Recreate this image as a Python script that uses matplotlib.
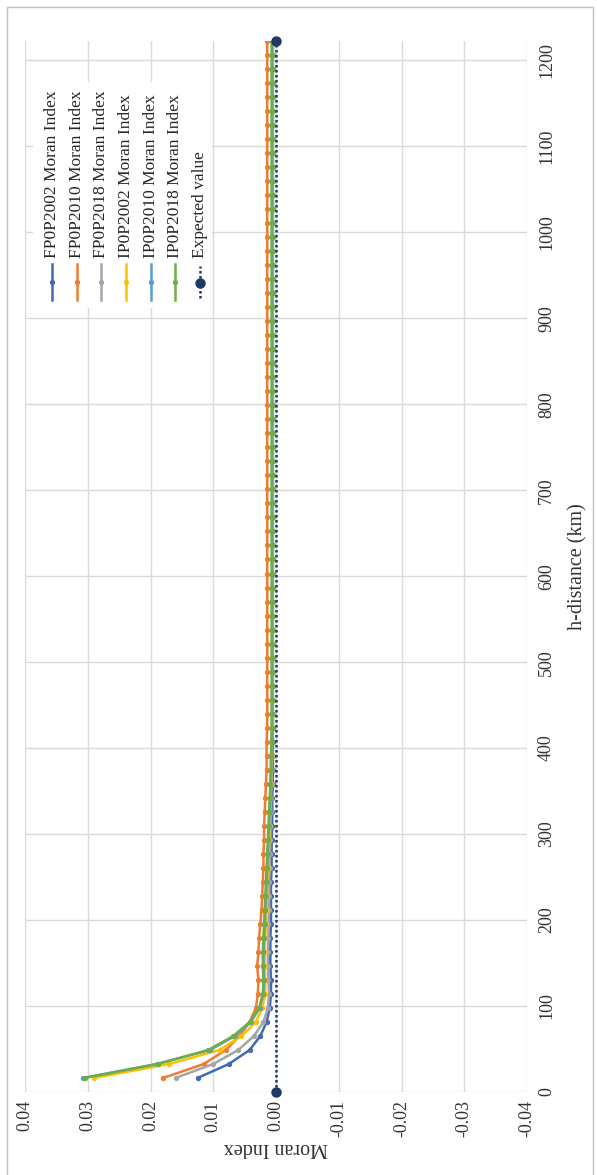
import numpy as np
import matplotlib.pyplot as plt
from matplotlib.lines import Line2D
from matplotlib.patches import Rectangle

plt.rcParams['font.family'] = ['Liberation Serif', 'DejaVu Serif']

# lag distances (km), 75 lags
lag_km = 16.3
h_km = lag_km * np.arange(1, 76)

fp2002 = [0.0125, 0.0075, 0.0042, 0.0025, 0.0015, 0.0010, 0.0008, 0.0008, 0.0009, 0.0009,
          0.0009, 0.0008, 0.0008, 0.0008, 0.0008, 0.0007, 0.0007, 0.0007, 0.0006, 0.0006,
          0.0006, 0.0005, 0.0005, 0.0005, 0.0005, 0.0005, 0.0005, 0.0005, 0.0005, 0.0005,
          0.0005, 0.0005, 0.0005, 0.0005, 0.0005, 0.0005, 0.0005, 0.0005, 0.0005, 0.0005,
          0.0005, 0.0005, 0.0005, 0.0005, 0.0005, 0.0005, 0.0005, 0.0005, 0.0005, 0.0005,
          0.0005, 0.0005, 0.0005, 0.0005, 0.0005, 0.0005, 0.0005, 0.0005, 0.0005, 0.0005,
          0.0005, 0.0005, 0.0005, 0.0005, 0.0005, 0.0005, 0.0005, 0.0005, 0.0005, 0.0005,
          0.0005, 0.0005, 0.0005, 0.0005, 0.0005]
fp2010 = [0.0180, 0.0115, 0.0080, 0.0058, 0.0042, 0.0032, 0.0029, 0.0028, 0.0030, 0.0028,
          0.0027, 0.0025, 0.0023, 0.0022, 0.0021, 0.0020, 0.0020, 0.0019, 0.0019, 0.0018,
          0.0017, 0.0016, 0.0015, 0.0015, 0.0015, 0.0014, 0.0014, 0.0014, 0.0014, 0.0014,
          0.0014, 0.0014, 0.0014, 0.0014, 0.0014, 0.0014, 0.0014, 0.0014, 0.0014, 0.0014,
          0.0014, 0.0014, 0.0014, 0.0014, 0.0014, 0.0014, 0.0014, 0.0014, 0.0014, 0.0014,
          0.0014, 0.0014, 0.0014, 0.0014, 0.0014, 0.0014, 0.0014, 0.0014, 0.0014, 0.0014,
          0.0014, 0.0014, 0.0014, 0.0014, 0.0014, 0.0014, 0.0014, 0.0014, 0.0014, 0.0014,
          0.0014, 0.0014, 0.0014, 0.0014, 0.0014]
fp2018 = [0.0160, 0.0100, 0.0060, 0.0035, 0.0020, 0.0013, 0.0011, 0.0012, 0.0013, 0.0013,
          0.0012, 0.0012, 0.0011, 0.0011, 0.0011, 0.0010, 0.0010, 0.0009, 0.0009, 0.0008,
          0.0008, 0.0007, 0.0007, 0.0006, 0.0006, 0.0005, 0.0005, 0.0005, 0.0005, 0.0005,
          0.0005, 0.0005, 0.0005, 0.0005, 0.0005, 0.0005, 0.0005, 0.0005, 0.0005, 0.0005,
          0.0005, 0.0005, 0.0005, 0.0005, 0.0005, 0.0005, 0.0005, 0.0005, 0.0005, 0.0005,
          0.0005, 0.0005, 0.0005, 0.0005, 0.0005, 0.0005, 0.0005, 0.0005, 0.0005, 0.0005,
          0.0005, 0.0005, 0.0005, 0.0005, 0.0005, 0.0005, 0.0005, 0.0005, 0.0005, 0.0005,
          0.0005, 0.0005, 0.0005, 0.0005, 0.0005]
ip2002 = [0.0290, 0.0170, 0.0090, 0.0055, 0.0032, 0.0022, 0.0017, 0.0017, 0.0018, 0.0018,
          0.0017, 0.0016, 0.0015, 0.0014, 0.0014, 0.0013, 0.0012, 0.0011, 0.0010, 0.0010,
          0.0009, 0.0008, 0.0008, 0.0007, 0.0007, 0.0006, 0.0006, 0.0006, 0.0006, 0.0006,
          0.0006, 0.0006, 0.0006, 0.0006, 0.0006, 0.0006, 0.0006, 0.0006, 0.0006, 0.0006,
          0.0006, 0.0006, 0.0006, 0.0006, 0.0006, 0.0006, 0.0006, 0.0006, 0.0006, 0.0006,
          0.0006, 0.0006, 0.0006, 0.0006, 0.0006, 0.0006, 0.0006, 0.0006, 0.0006, 0.0006,
          0.0006, 0.0006, 0.0006, 0.0006, 0.0006, 0.0006, 0.0006, 0.0006, 0.0006, 0.0006,
          0.0006, 0.0006, 0.0006, 0.0006, 0.0006]
ip2010 = [0.0308, 0.0190, 0.0105, 0.0065, 0.0040, 0.0026, 0.0020, 0.0019, 0.0020, 0.0020,
          0.0019, 0.0018, 0.0017, 0.0016, 0.0015, 0.0014, 0.0013, 0.0012, 0.0011, 0.0010,
          0.0009, 0.0009, 0.0008, 0.0008, 0.0007, 0.0006, 0.0006, 0.0006, 0.0006, 0.0006,
          0.0006, 0.0006, 0.0006, 0.0006, 0.0006, 0.0006, 0.0006, 0.0006, 0.0006, 0.0006,
          0.0006, 0.0006, 0.0006, 0.0006, 0.0006, 0.0006, 0.0006, 0.0006, 0.0006, 0.0006,
          0.0006, 0.0006, 0.0006, 0.0006, 0.0006, 0.0006, 0.0006, 0.0006, 0.0006, 0.0006,
          0.0006, 0.0006, 0.0006, 0.0006, 0.0006, 0.0006, 0.0006, 0.0006, 0.0006, 0.0006,
          0.0006, 0.0006, 0.0006, 0.0006, 0.0006]
ip2018 = [0.0305, 0.0188, 0.0108, 0.0068, 0.0042, 0.0027, 0.0021, 0.0020, 0.0021, 0.0021,
          0.0020, 0.0019, 0.0018, 0.0017, 0.0016, 0.0015, 0.0014, 0.0013, 0.0012, 0.0011,
          0.0010, 0.0009, 0.0008, 0.0008, 0.0007, 0.0007, 0.0007, 0.0007, 0.0007, 0.0007,
          0.0007, 0.0007, 0.0007, 0.0007, 0.0007, 0.0007, 0.0007, 0.0007, 0.0007, 0.0007,
          0.0007, 0.0007, 0.0007, 0.0007, 0.0007, 0.0007, 0.0007, 0.0007, 0.0007, 0.0007,
          0.0007, 0.0007, 0.0007, 0.0007, 0.0007, 0.0007, 0.0007, 0.0007, 0.0007, 0.0007,
          0.0007, 0.0007, 0.0007, 0.0007, 0.0007, 0.0007, 0.0007, 0.0007, 0.0007, 0.0007,
          0.0007, 0.0007, 0.0007, 0.0007, 0.0007]

# expected value line, only two end points
exp_h = [0, 1222.5]
exp_val = [0.0, 0.0]

series_names = ['FP0P2002 Moran Index', 'FP0P2010 Moran Index', 'FP0P2018 Moran Index',
                'IP0P2002 Moran Index', 'IP0P2010 Moran Index', 'IP0P2018 Moran Index']
series_vals = [fp2002, fp2010, fp2018, ip2002, ip2010, ip2018]
colors = ['#4169b8', '#ed7d31', '#a5a5a5', '#ffc000', '#5b9bd5', '#70ad47']
exp_color = '#1f3864'

moran_ticks = [0.04, 0.03, 0.02, 0.01, 0.0, -0.01, -0.02, -0.03, -0.04]
moran_labels = ['0.04', '0.03', '0.02', '0.01', '0.00', '-0.01', '-0.02', '-0.03', '-0.04']
h_ticks = list(range(0, 1201, 100))

W, H = 597, 1175
fig = plt.figure(figsize=(W / 100, H / 100), dpi=100)
fig.patch.set_facecolor('white')

# outer frame
fig.add_artist(Rectangle((7 / W, -0.01), (593 - 7) / W, 1.01 - 7 / H,
                         transform=fig.transFigure, fill=False,
                         edgecolor='#bfbfbf', lw=1.0))

ax_l, ax_r, ax_t, ax_b = 25, 527, 41, 1092
ax = fig.add_axes([ax_l / W, 1 - ax_b / H, (ax_r - ax_l) / W, (ax_b - ax_t) / H])

# chart is laid on its side: Moran index runs left-right (inverted), distance runs up
for vals, col in zip(series_vals, colors):
    ax.plot(vals, h_km, color=col, lw=1.8, marker='o', ms=2.8, zorder=3)
ax.plot(exp_val, exp_h, color=exp_color, lw=1.8, ls=(0, (1, 1)),
        marker='o', ms=6.5, zorder=4, clip_on=False)

ax.set_xlim(0.04, -0.04)
ax.set_ylim(0, 1222.5)
ax.set_xticks(moran_ticks)
ax.set_xticklabels(moran_labels, rotation=90)
ax.set_yticks(h_ticks)
ax.set_yticklabels([str(v) for v in h_ticks], rotation=90)
ax.yaxis.tick_right()
for lab in ax.get_yticklabels():
    lab.set_va('center')
ax.tick_params(axis='both', length=0, labelsize=13, colors='#333333')
ax.tick_params(axis='x', pad=6)
ax.tick_params(axis='y', pad=8)
ax.grid(True, color='#d9d9d9', lw=1.0, zorder=0)
ax.set_axisbelow(True)
for s in ax.spines.values():
    s.set_visible(False)

ax.set_xlabel('Moran Index', fontsize=14.5, color='#333333', rotation=180, va='top')
ax.xaxis.set_label_coords(0.5, -(1138 - ax_b) / (ax_b - ax_t))
ax.yaxis.set_label_position('right')
ax.set_ylabel('h-distance (km)', fontsize=14.5, color='#333333', rotation=90)
ax.yaxis.set_label_coords((568 - ax_l) / (ax_r - ax_l), 0.5)

# legend drawn sideways by hand
aw, ah = ax_r - ax_l, ax_b - ax_t
def fx(px):
    return (px - ax_l) / aw
def fy(py):
    return (ax_b - py) / ah

ax.add_patch(Rectangle((fx(33), fy(308)), fx(212) - fx(33), fy(82) - fy(308),
                       transform=ax.transAxes, facecolor='white', edgecolor='none', zorder=2))
entry_x = [52, 77, 101, 126, 151, 175, 200]
for i, name in enumerate(series_names + ['Expected value']):
    x = fx(entry_x[i])
    if i < len(series_names):
        ax.add_line(Line2D([x, x], [fy(300), fy(264)], transform=ax.transAxes,
                           color=colors[i], lw=1.8, zorder=5))
        ax.add_line(Line2D([x], [fy(282)], transform=ax.transAxes, color=colors[i],
                           marker='o', ms=2.8, zorder=5))
    else:
        ax.add_line(Line2D([x, x], [fy(298), fy(266)], transform=ax.transAxes,
                           color=exp_color, lw=1.8, ls=(0, (1, 1)), zorder=5))
        ax.add_line(Line2D([x], [fy(283)], transform=ax.transAxes, color=exp_color,
                           marker='o', ms=6.5, zorder=6))
    ax.text(x, fy(258), name, transform=ax.transAxes, rotation=90, ha='center',
            va='bottom', fontsize=12.5, color='#262626', zorder=5)

fig.savefig('out.png', dpi=100)
